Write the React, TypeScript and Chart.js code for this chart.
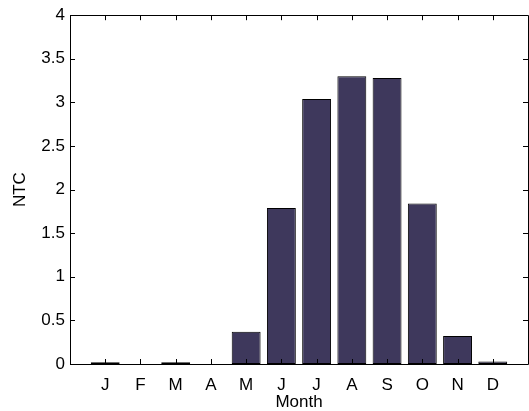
import React, { useEffect, useRef } from "react";
import { Chart, registerables } from "chart.js";

Chart.register(...registerables);

const months = ["J", "F", "M", "A", "M", "J", "J", "A", "S", "O", "N", "D"];
const monthIndex = [1, 2, 3, 4, 5, 6, 7, 8, 9, 10, 11, 12];
const ntcValues = [0.02, 0, 0.02, 0, 0.37, 1.79, 3.04, 3.3, 3.28, 1.84, 0.32, 0.03];
const yTicks = [0, 0.5, 1, 1.5, 2, 2.5, 3, 3.5, 4];

const FONT = "'Liberation Sans', Arial, Helvetica, sans-serif";

const boxPlugin = {
  id: "matlabBox",
  afterDatasetsDraw(chart: any) {
    const { ctx, chartArea } = chart;
    const { left, right, top, bottom } = chartArea;
    const xs = chart.scales.x;
    const ys = chart.scales.y;
    const tl = 5;
    ctx.save();
    ctx.strokeStyle = "#000";
    ctx.lineWidth = 1;
    ctx.beginPath();
    ctx.rect(Math.round(left) + 0.5, Math.round(top) + 0.5, Math.round(right - left), Math.round(bottom - top));
    ctx.stroke();
    ctx.beginPath();
    monthIndex.forEach((v) => {
      const px = Math.round(xs.getPixelForValue(v)) + 0.5;
      ctx.moveTo(px, bottom);
      ctx.lineTo(px, bottom - tl);
      ctx.moveTo(px, top);
      ctx.lineTo(px, top + tl);
    });
    yTicks.forEach((v) => {
      const py = Math.round(ys.getPixelForValue(v)) + 0.5;
      ctx.moveTo(left, py);
      ctx.lineTo(left + tl, py);
      ctx.moveTo(right, py);
      ctx.lineTo(right - tl, py);
    });
    ctx.stroke();
    ctx.restore();
  },
};

export default function App() {
  const ref = useRef<HTMLCanvasElement | null>(null);
  useEffect(() => {
    if (!ref.current) return;
    const chart = new Chart(ref.current, {
      type: "bar",
      data: {
        datasets: [
          {
            data: monthIndex.map((m, i) => ({ x: m, y: ntcValues[i] })),
            backgroundColor: "#3e385c",
            borderColor: "#000",
            borderWidth: 1,
            borderSkipped: false,
            barPercentage: 0.82,
            categoryPercentage: 1,
          },
        ],
      },
      options: {
        responsive: false,
        animation: false,
        maintainAspectRatio: false,
        layout: { padding: { top: 14, right: 1, left: 0, bottom: 0 } },
        plugins: { legend: { display: false }, tooltip: { enabled: false } },
        scales: {
          x: {
            type: "linear",
            offset: false,
            min: 0,
            max: 13,
            afterBuildTicks: (scale: any) => {
              scale.ticks = monthIndex.map((v) => ({ value: v }));
            },
            afterFit: (scale: any) => {
              scale.height = 47;
            },
            grid: { display: false, drawTicks: false },
            border: { display: false },
            ticks: {
              autoSkip: false,
              maxRotation: 0,
              padding: 11,
              color: "#000",
              font: { family: FONT, size: 17 },
              callback: (v: any) => months[Number(v) - 1] ?? "",
            },
            title: {
              display: true,
              text: "Month",
              color: "#000",
              font: { family: FONT, size: 17 },
              padding: { top: 0, bottom: -2 },
            },
          },
          y: {
            min: 0,
            max: 4,
            afterBuildTicks: (scale: any) => {
              scale.ticks = yTicks.map((v) => ({ value: v }));
            },
            afterFit: (scale: any) => {
              scale.width = 70;
            },
            grid: { display: false, drawTicks: false },
            border: { display: false },
            ticks: {
              padding: 5,
              color: "#000",
              font: { family: FONT, size: 17 },
              callback: (v: any) => String(Number(v)),
            },
            title: {
              display: true,
              text: "NTC",
              color: "#000",
              font: { family: FONT, size: 17 },
              padding: { top: 10, bottom: 0 },
            },
          },
        },
      },
      plugins: [boxPlugin],
    } as any);
    return () => chart.destroy();
  }, []);
  return (
    <div style={{ position: "fixed", left: 0, top: 0, width: 529, height: 411, background: "#fff" }}>
      <canvas ref={ref} width={529} height={411} style={{ display: "block" }} />
    </div>
  );
}
